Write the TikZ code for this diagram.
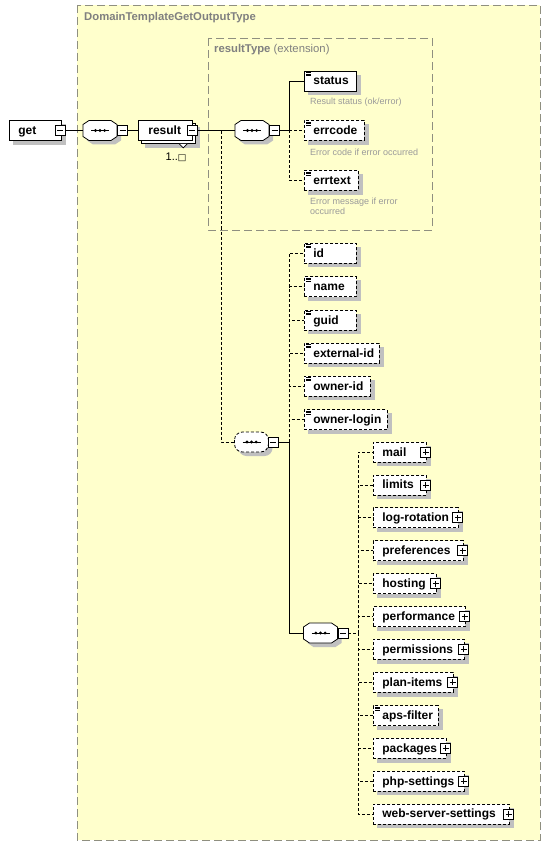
\documentclass[tikz,border=0pt]{standalone}
\usepackage{fontspec}
\setmainfont{Liberation Sans}
\newfontfamily\djv{DejaVu Sans}
\usetikzlibrary{calc}
\pgfdeclarelayer{bglayer}
\pgfdeclarelayer{shlayer}
\pgfsetlayers{bglayer,shlayer,main}
\definecolor{bgy}{HTML}{FFFFCC}
\definecolor{framec}{HTML}{8F8F80}
\definecolor{titlec}{HTML}{808080}
\definecolor{descc}{HTML}{9A9A9A}
\definecolor{shadowc}{HTML}{C0C0C0}
\newcommand\mkel[3]{\makebox[#1pt][l]{\hspace*{#2pt}#3}}
\newcommand\octpath{(-11,-10) -- (11,-10) -- (17,-6) -- (17,6) -- (11,10) -- (-11,10) -- (-17,6) -- (-17,-6) -- cycle}
\newcommand\seqdots[1]{%
  \draw[line width=.7pt, solid, shift={(#1.center)}] (-9,0) -- (9,0);
  \fill[shift={(#1.center)}] (-4.6,0) circle (1.6pt) (0,0) circle (1.6pt) (4.6,0) circle (1.6pt);}
\newcommand\seqoct[2][]{%
  \fill[shadowc, shift={(#2.center)}, xshift=4pt, yshift=-4pt] \octpath;
  \draw[fill=white, line width=.8pt, shift={(#2.center)}, #1] \octpath;
  \seqdots{#2}}
\newcommand\seqround[2][]{%
  \fill[shadowc, rounded corners=8pt, shift={(#2.center)}, xshift=4pt, yshift=-4pt] (-17,-10) rectangle (17,10);
  \draw[fill=white, line width=.8pt, rounded corners=8pt, shift={(#2.center)}, #1] (-17,-10) rectangle (17,10);
  \seqdots{#2}}
\newcommand\eshadow[2][4pt]{%
  \fill[shadowc] ([xshift=#1,yshift=-#1]#2.south west) rectangle ([xshift=#1,yshift=-#1]#2.north east);}
\begin{document}
\begin{tikzpicture}[x=1pt,y=-1pt,
  elem/.style={draw, fill=white, line width=.8pt, inner sep=0pt, minimum height=20pt,
    anchor=west, text height=9.5pt, text depth=1.5pt,
    font=\fontsize{12}{14}\selectfont\bfseries},
  opt/.style={dash pattern=on 3pt off 2pt},
  icon/.style={path picture={\draw[line width=.6pt, solid]
    ([xshift=2pt,yshift=-1.5pt]path picture bounding box.north west) -- ++(5pt,0)
    ([xshift=2pt,yshift=-3pt]path picture bounding box.north west) -- ++(5pt,0)
    ([xshift=2pt,yshift=-4.5pt]path picture bounding box.north west) -- ++(5pt,0);}},
  pmbox/.style={draw, solid, fill=white, line width=.7pt, minimum size=10pt, inner sep=0pt},
  pmminus/.style={pmbox, path picture={\draw[line width=.7pt, solid]
    ([xshift=2pt]path picture bounding box.west) -- ([xshift=-2pt]path picture bounding box.east);}},
  pmplus/.style={pmbox, path picture={\draw[line width=.7pt, solid]
    ([xshift=2pt]path picture bounding box.west) -- ([xshift=-2pt]path picture bounding box.east)
    ([yshift=2pt]path picture bounding box.south) -- ([yshift=-2pt]path picture bounding box.north);}},
  seqnode/.style={inner sep=0pt, minimum width=34pt, minimum height=20pt},
  conn/.style={line width=.8pt},
  dconn/.style={conn, dash pattern=on 3pt off 2pt},
  desc/.style={font=\fontsize{9}{10.5}\selectfont, text=descc, inner sep=0pt, anchor=west},
  boxframe/.style={draw=framec, line width=.8pt, dash pattern=on 8pt off 4pt},
]
\useasboundingbox (0,0) rectangle (551,850);
% type boxes
\begin{pgfonlayer}{bglayer}
\draw[boxframe, fill=bgy] (77,5) rectangle (540,840);
\draw[boxframe] (208,38) rectangle (432,230);
\end{pgfonlayer}
\node[anchor=west, inner sep=0pt, text=titlec, font=\fontsize{11.3}{13}\selectfont\bfseries] (title) at (84,18) {DomainTemplateGetOutputType};
\node[anchor=west, inner sep=0pt, text=titlec, font=\fontsize{11.3}{13}\selectfont] (rtitle) at (214,50) {\textbf{resultType} (extension)};

% get, sequence, result
\node[elem] (get) at (9,130.5) {\mkel{52}{9}{get}};
\node[pmminus] (getm) at (60,130.5) {};
\node[seqnode] (seq1) at (100,130.5) {};
\seqoct{seq1}
\node[pmminus] (seq1m) at (122.5,130.5) {};
\node[elem] (result) at (138,130.5) {\mkel{54}{10}{result}};
\node[pmminus] (resultm) at (192,130.5) {};
\node[inner sep=0pt, font=\fontsize{11}{13}\selectfont] (occ) at (176,157) {1..{\djv\fontsize{9}{10}\selectfont □}};

% resultType sequence
\node[seqnode] (seq2) at (252,130.5) {};
\seqoct{seq2}
\node[pmminus] (seq2m) at (274.5,130.5) {};
\node[elem, icon] (status) at (304,81) {\mkel{52}{9}{status}};
\node[desc] (statusd) at (310,102) {Result status (ok/error)};
\node[elem, icon, opt] (errcode) at (304,130.5) {\mkel{60}{9}{errcode}};
\node[desc] (errcoded) at (310,152) {Error code if error occurred};
\node[elem, icon, opt] (errtext) at (304,180.5) {\mkel{54}{9}{errtext}};
\node[desc, anchor=north west, align=left] (errtextd) at (310,197.5) {Error message if error\\occurred};

% extension sequence (optional)
\node[seqnode] (mseq) at (251.5,442) {};
\seqround[opt]{mseq}
\node[pmminus] (mseqm) at (273,442) {};
\node[elem, icon, opt] (id) at (304,253) {\mkel{52}{9}{id}};
\node[elem, icon, opt] (name) at (304,286.5) {\mkel{52}{9}{name}};
\node[elem, icon, opt] (guid) at (304,320) {\mkel{52}{9}{guid}};
\node[elem, icon, opt] (extid) at (304,353) {\mkel{75}{9}{external-id}};
\node[elem, icon, opt] (ownerid) at (304,386) {\mkel{66}{9}{owner-id}};
\node[elem, icon, opt] (ownerlogin) at (304,419.5) {\mkel{83}{9}{owner-login}};

% inner sequence
\node[seqnode] (bseq) at (320.5,633) {};
\seqoct{bseq}
\node[pmminus] (bseqm) at (343,633) {};
\node[elem, opt] (mail) at (373,452) {\mkel{53}{9}{mail}};
\node[pmplus] (mailp) at ([xshift=-1pt]mail.east) {};
\node[elem, opt] (limits) at (373,484.9) {\mkel{53}{9}{limits}};
\node[pmplus] (limitsp) at ([xshift=-1pt]limits.east) {};
\node[elem, opt] (logrot) at (373,517.8) {\mkel{85}{9}{log-rotation}};
\node[pmplus] (logrotp) at ([xshift=-1pt]logrot.east) {};
\node[elem, opt] (prefs) at (373,550.7) {\mkel{90}{9}{preferences}};
\node[pmplus] (prefsp) at ([xshift=-1pt]prefs.east) {};
\node[elem, opt] (hosting) at (373,583.6) {\mkel{63}{9}{hosting}};
\node[pmplus] (hostingp) at ([xshift=-1pt]hosting.east) {};
\node[elem, opt] (perf) at (373,616.5) {\mkel{92}{9}{performance}};
\node[pmplus] (perfp) at ([xshift=-1pt]perf.east) {};
\node[elem, opt] (perms) at (373,649.4) {\mkel{91}{9}{permissions}};
\node[pmplus] (permsp) at ([xshift=-1pt]perms.east) {};
\node[elem, opt] (plan) at (373,682.3) {\mkel{80}{9}{plan-items}};
\node[pmplus] (planp) at ([xshift=-1pt]plan.east) {};
\node[elem, opt, icon] (aps) at (373,715.6) {\mkel{65}{9}{aps-filter}};
\node[elem, opt] (pkgs) at (373,748.1) {\mkel{73}{9}{packages}};
\node[pmplus] (pkgsp) at ([xshift=-1pt]pkgs.east) {};
\node[elem, opt] (php) at (373,781) {\mkel{91}{9}{php-settings}};
\node[pmplus] (phpp) at ([xshift=-1pt]php.east) {};
\node[elem, opt] (web) at (373,813.9) {\mkel{136}{9}{web-server-settings}};
\node[pmplus] (webp) at ([xshift=-1pt]web.east) {};

% shadows and the repeated-element back box
\begin{pgfonlayer}{shlayer}
\foreach \n in {get,status,errcode,errtext,id,name,guid,extid,ownerid,ownerlogin,
  mail,limits,logrot,prefs,hosting,perf,perms,plan,aps,pkgs,php,web}
  {\eshadow{\n}}
\eshadow[7pt]{result}
\filldraw[fill=white, line width=.8pt] ([xshift=3pt,yshift=-3pt]result.south west) rectangle ([xshift=3pt,yshift=-3pt]result.north east);
\filldraw[fill=white, line width=.7pt] ([xshift=-13.5pt,yshift=-3pt]result.south east) -- ++(4pt,-4pt) -- ++(4pt,4pt);
\end{pgfonlayer}

% junctions
\coordinate (j1) at (221,130.5);
\coordinate (j2) at (289,130.5);
\coordinate (j3) at (289,442);
\coordinate (j4) at (358,633);

% connectors
\draw[conn] (getm.east) -- (seq1.west);
\draw[conn] (seq1m.east) -- (result.west);
\draw[conn] (resultm.east) -- (seq2.west);
\draw[dconn] ([yshift=-1pt]j1) |- (mseq.west);
\draw[conn] (seq2m.east) -- (j2) |- (status.west);
\draw[dconn] (j2) -- (errcode.west);
\draw[dconn] (j2) |- (errtext.west);
\foreach \n in {id,name,guid,extid,ownerid,ownerlogin}
  \draw[dconn] (j3) |- (\n.west);
\draw[conn] (mseqm.east) -- (j3) |- (bseq.west);
\draw[dconn] (bseqm.east) -- (j4);
\foreach \n in {mail,limits,logrot,prefs,hosting,perf}
  \draw[dconn] (j4) |- (\n.west);
\foreach \n in {perms,plan,aps,pkgs,php,web}
  \draw[dconn] (j4) |- (\n.west);
\end{tikzpicture}
\end{document}
